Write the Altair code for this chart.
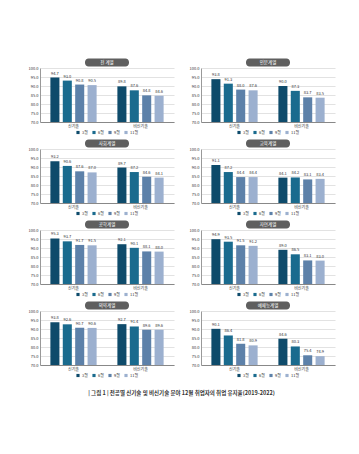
import altair as alt
import pandas as pd

panels = ["전 계열", "인문계열", "사회계열", "교육계열", "공학계열", "자연계열", "의약계열", "예체능계열"]
categories = ["신기술", "비신기술"]
months = ["3월", "6월", "9월", "11월"]

v_all = [[94.7, 93.0, 90.8, 90.5], [89.8, 87.6, 84.8, 84.6]]
v_hum = [[93.8, 91.3, 88.0, 87.6], [90.0, 87.3, 83.7, 83.5]]
v_soc = [[93.2, 90.6, 87.6, 87.0], [89.7, 87.2, 84.6, 84.1]]
v_edu = [[91.1, 87.2, 84.4, 84.4], [84.1, 84.2, 83.1, 83.4]]
v_eng = [[95.3, 93.7, 91.7, 91.5], [92.1, 90.1, 88.1, 88.0]]
v_sci = [[94.9, 93.5, 91.5, 91.2], [89.0, 86.5, 83.1, 83.0]]
v_med = [[93.8, 92.6, 90.7, 90.6], [92.7, 91.4, 89.6, 89.6]]
v_art = [[90.1, 86.4, 81.8, 80.9], [84.6, 80.3, 75.4, 74.9]]
values = [v_all, v_hum, v_soc, v_edu, v_eng, v_sci, v_med, v_art]

y_ticks = [70, 75, 80, 85, 90, 95, 100]
colors = ["#0e4b6b", "#1a6b8e", "#5d81a9", "#9cb0cf"]
caption = "| 그림 1 |  전공별 신기술 및 비신기술 분야 12월 취업자의 취업 유지율(2019-2022)"

W, H = 134, 54


def panel(name, vals):
    rows = []
    for ci, cat in enumerate(categories):
        for mi, m in enumerate(months):
            rows.append({"구분": cat, "월": m, "값": vals[ci][mi]})
    df = pd.DataFrame(rows)
    base = alt.Chart(df)
    x = alt.X("구분:N", sort=categories,
              scale=alt.Scale(paddingInner=0.31, paddingOuter=0.155),
              axis=alt.Axis(title=None, labelAngle=0, ticks=False, domainColor="#888888",
                            labelFontSize=4, labelPadding=2, labelColor="#333333", grid=False))
    xo = alt.XOffset("월:N", sort=months, scale=alt.Scale(paddingInner=0.27, paddingOuter=0))
    y = alt.Y("값:Q", scale=alt.Scale(domain=[70, 100], zero=False, nice=False),
              axis=alt.Axis(title=None, values=y_ticks, format=".1f", ticks=False,
                            labelFontSize=4, labelPadding=2, labelColor="#333333",
                            domainColor="#999999", gridColor="#cfcfcf", gridWidth=0.6))
    bars = base.mark_bar().encode(
        x=x, xOffset=xo, y=y, y2=alt.datum(70),
        color=alt.Color("월:N", sort=months, scale=alt.Scale(domain=months, range=colors),
                        legend=alt.Legend(orient="none", legendX=36, legendY=62.5, direction="horizontal",
                                          title=None, symbolType="square", symbolSize=10,
                                          symbolStrokeWidth=0, labelFontSize=4, labelOffset=2,
                                          columnPadding=4, labelColor="#333333"))
    )
    labels = base.mark_text(dy=-2, baseline="bottom", fontSize=4, color="#333333").encode(
        x=x, xOffset=xo, y=y, text=alt.Text("값:Q", format=".1f")
    )
    tdf = pd.DataFrame({"계열": [name]})
    bubble = alt.Chart(tdf).mark_rect(cornerRadius=3.5, color="#5f5f5f").encode(
        x=alt.value(45), x2=alt.value(89), y=alt.value(-9.5), y2=alt.value(-1.5)
    )
    btext = alt.Chart(tdf).mark_text(color="white", fontSize=4.5, baseline="middle").encode(
        x=alt.value(67), y=alt.value(-5.5), text="계열:N"
    )
    return alt.layer(bubble, btext, bars, labels).properties(width=W, height=H)


charts = [panel(n, v) for n, v in zip(panels, values)]
rows = [alt.hconcat(charts[i], charts[i + 1], spacing=15).resolve_scale(color="independent")
        for i in range(0, 8, 2)]
chart = alt.vconcat(*rows, spacing=4).resolve_scale(color="independent").properties(
    padding={"left": 20, "top": 50, "right": 5, "bottom": 5},
    title=alt.TitleParams(caption, orient="bottom", anchor="middle", fontSize=5.5,
                          fontWeight="bold", color="#333333", offset=13),
).configure(font="Noto Sans CJK KR").configure_view(stroke=None)

chart.save("out.html", embed_options={"renderer": "svg", "actions": False})
